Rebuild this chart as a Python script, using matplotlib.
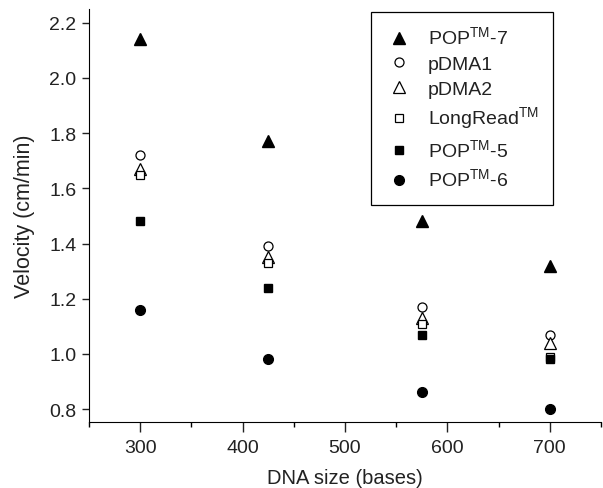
import matplotlib
matplotlib.use("Agg")
import matplotlib.pyplot as plt

plt.rcParams['font.family'] = ['Liberation Sans', 'DejaVu Sans']
plt.rcParams['mathtext.fontset'] = 'custom'
plt.rcParams['mathtext.rm'] = 'Liberation Sans'

# DNA size (bases)
sizes = [300, 425, 575, 700]

# velocities (cm/min) per polymer
pop7 = [2.14, 1.77, 1.48, 1.32]
pdma1 = [1.72, 1.39, 1.17, 1.07]
pdma2 = [1.67, 1.35, 1.13, 1.04]
longread = [1.65, 1.33, 1.11, 0.99]
pop5 = [1.48, 1.24, 1.07, 0.98]
pop6 = [1.16, 0.98, 0.86, 0.80]

labels = ['POP$^{\\mathrm{TM}}$-7', 'pDMA1', 'pDMA2', 'LongRead$^{\\mathrm{TM}}$',
          'POP$^{\\mathrm{TM}}$-5', 'POP$^{\\mathrm{TM}}$-6']

fig = plt.figure(figsize=(6.03, 4.89), dpi=100)
ax = fig.add_axes([89 / 603, 66 / 489, 512 / 603, 413 / 489])

ax.plot(sizes, pop7, '^', color='black', ms=8.5, ls='none', label=labels[0])
ax.plot(sizes, pdma1, 'o', mfc='white', mec='black', mew=0.9, ms=6.5, ls='none', label=labels[1])
ax.plot(sizes, pdma2, '^', mfc='white', mec='black', mew=0.9, ms=8, ls='none', label=labels[2])
ax.plot(sizes, longread, 's', mfc='white', mec='black', mew=0.9, ms=5.8, ls='none', label=labels[3])
ax.plot(sizes, pop5, 's', color='black', ms=6, ls='none', label=labels[4])
ax.plot(sizes, pop6, 'o', color='black', ms=7, ls='none', label=labels[5])

ax.set_xlim(250, 750)
ax.set_ylim(0.753, 2.25)
ax.set_xticks([300, 400, 500, 600, 700])
ax.set_xticks([250, 350, 450, 550, 650, 750], minor=True)
ax.set_yticks([0.8, 1.0, 1.2, 1.4, 1.6, 1.8, 2.0, 2.2])
ax.set_yticklabels(['0.8', '1.0', '1.2', '1.4', '1.6', '1.8', '2.0', '2.2'])
ax.tick_params(direction='out', width=1, labelsize=14, colors='#222222')
ax.tick_params(axis='x', which='major', length=7, pad=5)
ax.tick_params(axis='y', which='major', length=5, pad=4)
ax.tick_params(axis='x', which='minor', direction='out', length=3.5, width=1)
ax.spines['top'].set_visible(False)
ax.spines['right'].set_visible(False)
ax.set_xlabel('DNA size (bases)', fontsize=14.5, labelpad=9, color='#222222')
ax.set_ylabel('Velocity (cm/min)', fontsize=15.5, labelpad=10, color='#222222')

leg = ax.legend(loc='upper right', bbox_to_anchor=(0.906, 0.993), borderaxespad=0,
                fontsize=14, frameon=True, fancybox=False, edgecolor='black', framealpha=1,
                handlelength=1.4, handletextpad=0.8, labelspacing=0.36, borderpad=0.72)
leg.get_frame().set_linewidth(0.9)
for t in leg.get_texts():
    t.set_color('#222222')

fig.savefig('out.png', dpi=100)
